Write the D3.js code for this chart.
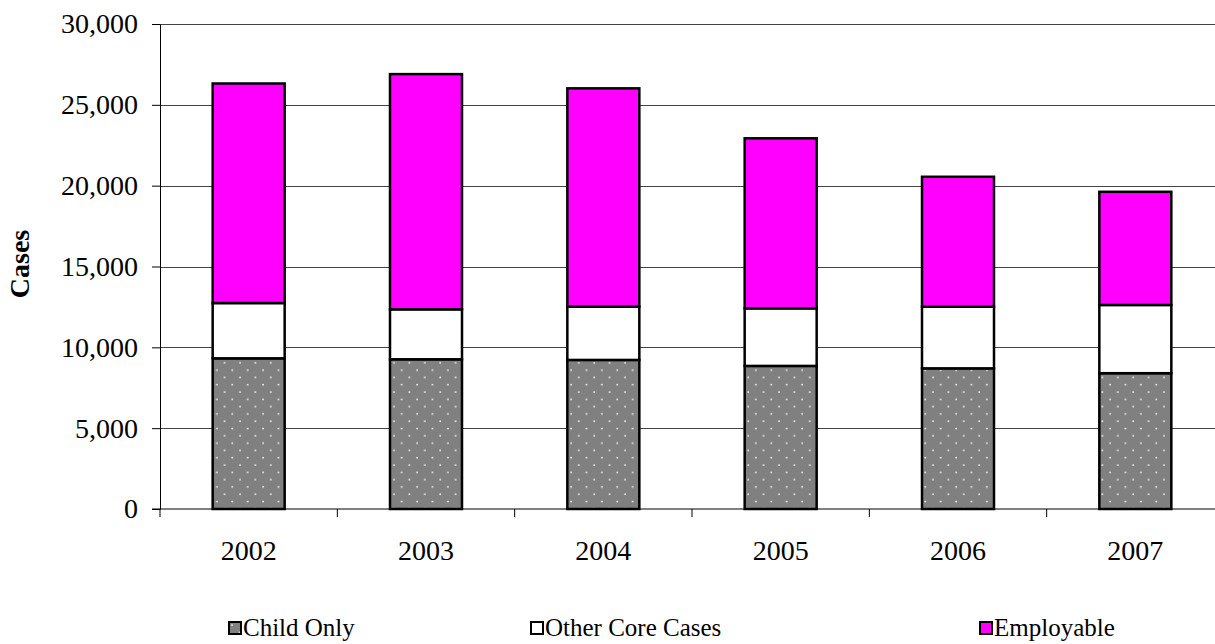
<!DOCTYPE html>
<html>
<head>
<meta charset="utf-8">
<script src="https://cdn.jsdelivr.net/npm/d3@7"></script>
<style>
    body { margin: 0; background: #fff; }
    svg text { font-family: "Liberation Serif", "Times New Roman", serif; fill: #000; }
    .grid line { stroke: #444; stroke-width: 1; }
    .axis path, .axis line { stroke: #000; }
</style>
</head>
<body>
<svg id="chart" width="1215" height="644"></svg>
<script>
// values
const years = ["2002", "2003", "2004", "2005", "2006", "2007"];
const childOnly = [9320, 9260, 9220, 8850, 8700, 8400];
const otherCore = [3420, 3090, 3300, 3560, 3810, 4220];
const employable = [13580, 14550, 13500, 10520, 8040, 7000];
const seriesNames = ["Child Only", "Other Core Cases", "Employable"];
const yTicks = [0, 5000, 10000, 15000, 20000, 25000, 30000];

let svg = d3.select("#chart"),
    margin = {top: 24, left: 160},
    width = 1064,
    height = 485,
    g = svg.append("g").attr("transform", "translate(" + margin.left + "," + margin.top + ")");

// dotted fill for child only
let defs = svg.append("defs");
let pat = defs.append("pattern")
    .attr("id", "dots")
    .attr("patternUnits", "userSpaceOnUse")
    .attr("width", 15.4)
    .attr("height", 14.6);
pat.append("rect").attr("width", 15.4).attr("height", 14.6).attr("fill", "#808080");
pat.append("circle").attr("cx", 3).attr("cy", 3).attr("r", 0.9).attr("fill", "#fff");
pat.append("circle").attr("cx", 10.7).attr("cy", 10.3).attr("r", 0.9).attr("fill", "#fff");

const fills = ["url(#dots)", "#ffffff", "#ff00ff"];

let x = d3.scaleBand()
    .domain(years)
    .range([0, width])
    .paddingInner(0.594)
    .paddingOuter(0.297);

let y = d3.scaleLinear()
    .domain([0, 30000])
    .range([height, 0]);

// gridlines
g.append("g")
    .attr("class", "grid")
    .selectAll("line")
    .data(yTicks.slice(1))
    .enter().append("line")
    .attr("x1", 0)
    .attr("x2", width)
    .attr("y1", function (d) { return Math.round(y(d)) + 0.5; })
    .attr("y2", function (d) { return Math.round(y(d)) + 0.5; });

// stacked data
let rows = years.map(function (yr, i) {
    return {year: yr, c: childOnly[i], o: otherCore[i], e: employable[i]};
});
let stack = d3.stack().keys(["c", "o", "e"])(rows);

g.selectAll(".layer")
    .data(stack)
    .enter().append("g")
    .attr("class", "layer")
    .attr("fill", function (d, i) { return fills[i]; })
    .selectAll("rect")
    .data(function (d) { return d; })
    .enter().append("rect")
    .attr("x", function (d) { return x(d.data.year); })
    .attr("y", function (d) { return y(d[1]); })
    .attr("width", x.bandwidth())
    .attr("height", function (d) { return y(d[0]) - y(d[1]); })
    .attr("stroke", "#000")
    .attr("stroke-width", 2.5);

// y axis
let yAxis = g.append("g")
    .attr("class", "axis axis--y")
    .call(d3.axisLeft(y).tickValues(yTicks).tickFormat(d3.format(",")).tickSize(8).tickSizeOuter(0).tickPadding(14));
yAxis.attr("font-family", null).attr("font-size", null);
yAxis.selectAll("text").style("font-size", "28px");

// x axis: labels at centers, ticks at category boundaries
let xAxis = g.append("g")
    .attr("class", "axis axis--x")
    .attr("transform", "translate(0," + height + ")");
xAxis.append("line")
    .attr("x1", -8).attr("x2", width)
    .attr("stroke", "#000");
let step = x.step(), gap = (step - x.bandwidth()) / 2;
let bounds = years.map(function (d) { return x(d) - gap; });
bounds.push(x(years[years.length - 1]) + x.bandwidth() + gap);
xAxis.selectAll(".xt")
    .data(bounds)
    .enter().append("line")
    .attr("class", "xt")
    .attr("x1", function (d) { return d; })
    .attr("x2", function (d) { return d; })
    .attr("y1", 0).attr("y2", 8)
    .attr("stroke", "#000");
xAxis.selectAll(".xl")
    .data(years)
    .enter().append("text")
    .attr("x", function (d) { return x(d) + x.bandwidth() / 2; })
    .attr("y", 51)
    .attr("text-anchor", "middle")
    .style("font-size", "28px")
    .text(function (d) { return d; });

// y title
svg.append("text")
    .attr("transform", "translate(29,264) rotate(-90)")
    .attr("text-anchor", "middle")
    .style("font-size", "28px")
    .style("font-weight", "bold")
    .text("Cases");

// legend
const legendX = [229, 531, 980];
let leg = svg.selectAll(".leg")
    .data(seriesNames)
    .enter().append("g")
    .attr("class", "leg")
    .attr("transform", function (d, i) { return "translate(" + legendX[i] + ",622)"; });
leg.append("rect")
    .attr("width", 12).attr("height", 12)
    .attr("fill", function (d, i) { return fills[i]; })
    .attr("stroke", "#000")
    .attr("stroke-width", 2);
leg.append("text")
    .attr("x", 14)
    .attr("y", 14)
    .style("font-size", "25px")
    .text(function (d) { return d; });
</script>
</body>
</html>
